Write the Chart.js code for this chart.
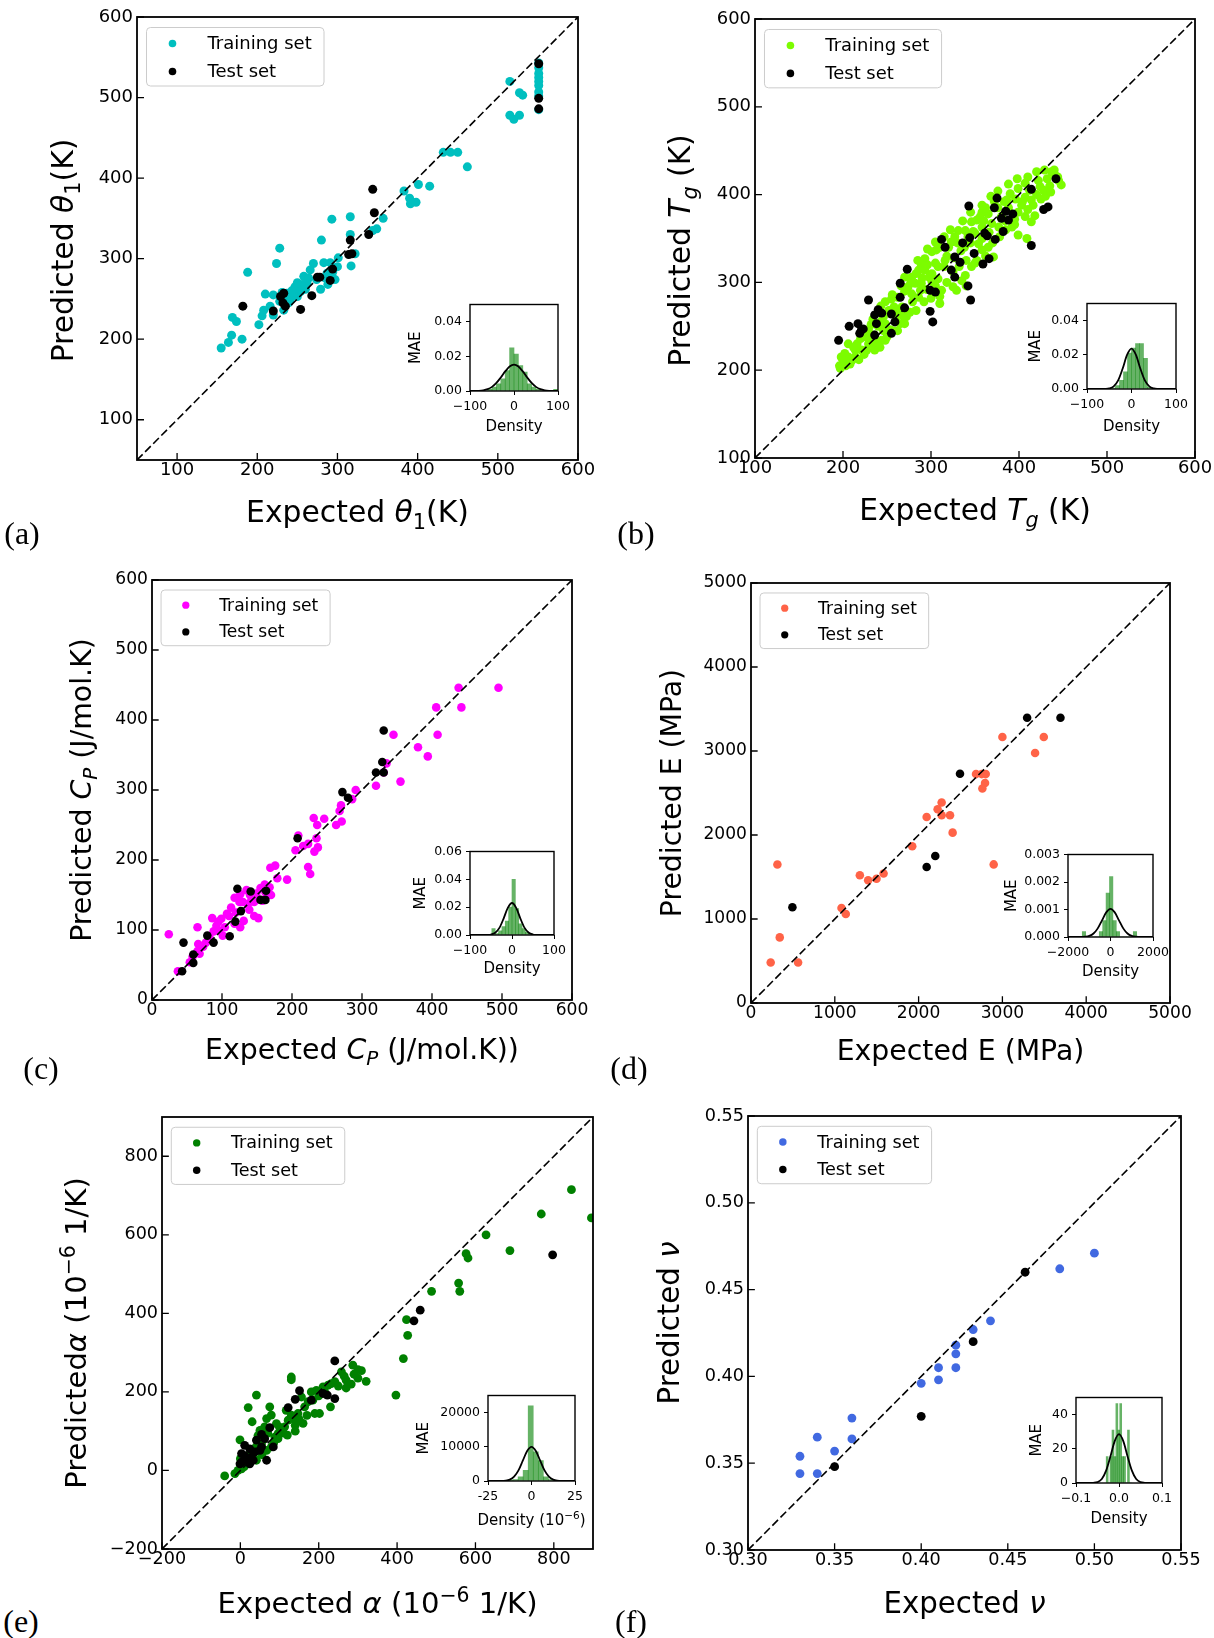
<!DOCTYPE html>
<html>
<head>
<meta charset="utf-8">
<script src="https://cdn.jsdelivr.net/npm/chart.js@4.4.1/dist/chart.umd.min.js"></script>
<style>
html, body { margin: 0; padding: 0; background: #fff; overflow: hidden; }
#page { position: relative; width: 1214px; height: 1638px; }
canvas { position: absolute; }
.tag { position: absolute; font: 32px "Liberation Serif", serif; transform: translate(-50%, -50%); line-height: 1; }
</style>
</head>
<body>
<div id="page"></div>
<script>
// ---- (a) theta_1 ----
var aTicks = [100, 200, 300, 400, 500, 600];
var aTrain = [[551,543],[551,537],[551,530],[551,525],[551,520],[551,515],[551,507],[551,502],[551,485],
  [515,520],[527,506],[531,503],[515,478],[520,473],[527,478],[432,432],[441,432],[450,432],[462,414],
  [383,384],[401,392],[415,390],[390,375],[391,368],[398,370],[357,350],[349,337],[344,335],
  [293,349],[316,352],[316,330],[280,323],[228,313],[224,294],[188,283],[301,301],[270,294],[283,295],
  [291,295],[317,291],[258,278],[262,270],[247,265],[237,257],[210,256],[220,255],[231,258],[241,249],
  [250,253],[254,259],[274,274],[279,262],[287,282],[297,274],[208,236],[206,229],[216,241],[220,230],
  [233,236],[169,227],[174,222],[202,218],[168,205],[164,196],[155,189],[181,200],[266,286],[252,263],
  [245,255],[239,245],[256,268],[264,276],[285,276],[294,283],[243,260],[250,270],[260,262],[228,247],
  [236,250],[300,290],[322,306],[288,268]];
var aTest = [[551,542],[551,499],[551,486],[344,386],[346,357],[339,330],[316,323],[314,305],[318,306],
  [294,287],[291,273],[275,277],[278,277],[268,254],[254,237],[233,257],[229,253],[232,245],[235,241],
  [220,235],[182,241]];

// ---- (b) T_g ----
var bTicks = [100, 200, 300, 400, 500, 600];
var bTrain = [[429,428],[437,426],[441,422],[448,411],[445,416],[422,416],[424,409],[407,413],[399,407],
  [390,401],[386,394],[407,397],[414,394],[403,388],[407,375],[414,369],[399,380],[392,363],[399,354],
  [409,350],[377,363],[369,367],[365,378],[358,380],[356,375],[352,371],[346,369],[348,358],[342,352],
  [339,359],[358,363],[358,350],[354,344],[365,340],[371,329],[358,337],[331,359],[327,352],[323,346],
  [305,346],[306,337],[301,335],[293,327],[289,320],[286,314],[293,314],[301,310],[308,318],[316,325],
  [278,306],[282,299],[289,299],[288,291],[278,287],[274,295],[312,291],[310,276],[308,304],[301,301],
  [329,291],[335,302],[339,308],[267,272],[263,264],[259,270],[272,261],[270,253],[265,253],[248,278],
  [252,268],[246,261],[248,253],[246,245],[250,238],[244,234],[229,246],[225,238],[229,230],[221,223],
  [214,223],[216,230],[227,223],[206,230],[202,219],[198,215],[206,215],[200,207],[197,202],[208,207],
  [214,215],[233,230],[236,223],[242,226],[248,234],[420,400],[428,405],[435,410],[432,418],[440,428],
  [444,420],[416,388],[410,383],[395,372],[388,385],[383,392],[380,375],[376,385],[372,392],[362,385],
  [385,360],[395,366],[418,376],[425,395],[430,398],[436,403],[412,405],[404,392],[396,395],[384,370],
  [378,352],[370,345],[366,357],[360,370],[350,356],[345,345],[338,340],[330,345],[334,336],[326,328],
  [318,330],[320,340],[315,352],[340,325],[350,322],[362,330],[352,325],[346,318],[332,318],[325,312],
  [315,318],[305,322],[296,320],[298,306],[290,305],[283,310],[277,300],[270,290],[262,283],[255,281],
  [258,272],[279,278],[286,283],[295,292],[305,296],[318,300],[325,295],[340,296],[310,284],[300,282],
  [292,278],[283,268],[276,266],[268,262],[260,256],[254,246],[240,250],[236,240],[230,238],[226,245],
  [220,236],[212,226],[210,211],[203,205],[196,205],[200,212],[218,212],[224,218],[239,232],[256,245],
  [262,245],[244,256],[234,258],[256,286],[266,296],[270,306],[285,325],[296,338],[310,340],[322,360],
  [336,370],[345,380],[358,388],[368,398],[376,404],[388,412],[398,418],[410,420],[420,426],[232,252],
  [243,273]];
var bTest = [[442,418],[414,406],[428,383],[433,386],[375,396],[343,387],[372,385],[385,381],[393,378],
  [380,373],[388,371],[382,358],[361,356],[364,353],[373,349],[414,342],[344,351],[336,345],[349,333],
  [312,349],[316,340],[327,329],[333,323],[359,321],[366,327],[323,314],[327,306],[342,296],[345,280],
  [299,291],[305,289],[299,267],[302,255],[273,315],[265,299],[265,283],[270,271],[229,280],[240,269],
  [244,265],[236,263],[238,253],[236,240],[255,264],[259,255],[255,242],[217,253],[221,246],[223,247],
  [219,242],[207,250],[195,234]];

// ---- (c) C_P ----
var cTicks = [0, 100, 200, 300, 400, 500, 600];
var cTrain = [[495,446],[438,446],[442,418],[406,418],[408,379],[345,379],[380,361],[394,348],[355,312],
  [320,306],[335,338],[331,325],[291,300],[286,287],[270,278],[268,270],[271,255],[263,250],[246,259],
  [231,260],[236,250],[235,231],[237,218],[232,212],[223,223],[216,220],[205,214],[209,235],[223,190],
  [226,180],[176,192],[169,189],[179,174],[193,172],[161,165],[168,161],[149,152],[142,143],[135,157],
  [126,151],[118,146],[139,129],[152,117],[146,120],[131,113],[126,104],[113,132],[107,123],[99,116],
  [92,106],[86,117],[65,104],[118,109],[104,104],[96,99],[101,92],[82,90],[77,82],[66,80],[65,70],
  [68,66],[54,54],[37,41],[24,94],[162,154],[158,142],[146,140],[137,137],[110,120],[95,112],[120,125],
  [130,140],[150,145],[140,150],[88,98],[73,76],[58,62],[170,150],[155,160],[125,140]];
var cTest = [[331,385],[329,340],[331,325],[320,325],[272,297],[280,289],[208,231],[163,156],[155,143],
  [162,143],[141,155],[122,159],[127,127],[119,112],[111,91],[88,82],[79,92],[45,82],[59,65],[59,53],
  [43,41]];

// ---- (d) E ----
var dTicks = [0, 1000, 2000, 3000, 4000, 5000];
var dTrain = [[315,1649],[343,781],[235,482],[562,482],[1080,1132],[1131,1060],[1299,1522],[1398,1462],
  [1498,1478],[1582,1542],[1924,1865],[2096,2215],[2275,2387],[2227,2307],[2275,2235],[2375,2235],
  [2406,2028],[2896,1650],[2685,2725],[2753,2725],[2801,2725],[2793,2618],[2761,2554],[3000,3167],
  [3390,2976],[3494,3167]];
var dTest = [[494,1140],[2096,1618],[2199,1749],[2494,2729],[3295,3395],[3693,3395]];

// ---- (e) alpha ----
var eTicks = [-200, 0, 200, 400, 600, 800];
var eTrain = [[896,643],[845,715],[768,653],[688,560],[627,600],[576,552],[581,541],[560,456],[557,477],
  [488,456],[424,384],[427,344],[416,285],[397,192],[130,238],[130,231],[41,192],[20,160],[30,124],
  [-40,-14],[-1,78],[287,268],[300,257],[309,254],[321,227],[270,230],[283,220],[258,251],[241,226],
  [232,221],[224,217],[211,213],[194,204],[181,200],[185,179],[173,175],[190,145],[202,145],[230,162],
  [156,187],[164,162],[147,145],[139,128],[130,141],[117,153],[122,128],[113,111],[105,102],[92,119],
  [96,94],[88,85],[75,162],[79,141],[67,132],[62,111],[50,102],[45,89],[54,68],[67,51],[79,60],[96,81],
  [24,43],[33,34],[41,26],[11,17],[3,4],[-6,0],[-14,-8],[100,110],[110,95],[140,115],[150,130],[160,120],
  [170,140],[200,190],[215,200],[250,215],[265,240],[290,245],[300,235],[270,210],[140,100],[120,90],
  [60,80],[40,60],[20,25],[10,10],[0,30],[30,50],[85,70],[55,40],[70,95]];
var eTest = [[797,549],[459,408],[443,381],[241,279],[151,203],[140,181],[181,179],[211,196],[222,192],
  [241,183],[122,160],[75,109],[54,92],[62,81],[41,77],[54,60],[84,60],[11,64],[24,55],[37,47],[50,51],
  [28,34],[11,38],[3,43],[3,21],[16,26],[33,26],[67,26],[24,17],[-1,17]];

// ---- (f) nu ----
var fTicks = [0.30, 0.35, 0.40, 0.45, 0.50, 0.55];
var fTrain = [[0.50,0.471],[0.48,0.462],[0.44,0.432],[0.43,0.427],[0.42,0.418],[0.42,0.413],[0.42,0.405],
  [0.41,0.405],[0.41,0.398],[0.40,0.396],[0.36,0.376],[0.36,0.364],[0.34,0.365],[0.35,0.357],
  [0.33,0.354],[0.33,0.344],[0.34,0.344]];
var fTest = [[0.46,0.46],[0.43,0.420],[0.40,0.377],[0.35,0.348]];

// ---- error histograms (insets) ----
var errX100 = [-100,-90,-80,-70,-60,-50,-40,-30,-20,-10,0,10,20,30,40,50,60,70,80,90,100];
var aBinMid = [-55,-45,-35,-25,-15,-5,5,15,25,35,45,55,65,75,85,95];
var aBinH = [0.001,0.0023,0.0042,0.007,0.0118,0.025,0.0213,0.0147,0.0109,0.0042,0.0023,0.001,0,0,0,0.001];
var aFitY = [0,0.00004,0.00013,0.00041,0.00106,0.00239,0.00466,0.00781,0.01131,0.01412,0.0152,
  0.01412,0.01131,0.00781,0.00466,0.00239,0.00106,0.00041,0.00013,0.00004,0];
var bBinMid = [-40.5,-31.5,-22.5,-13.5,-4.5,4.5,13.5,22.5,31.5,40.5];
var bBinH = [0.0005,0.002,0.005,0.01,0.021,0.024,0.0265,0.0265,0.018,0.001];
var bFitY = [0,0,0,0,0.00005,0.0003,0.0015,0.005,0.0118,0.0199,0.0236,0.0199,0.0118,0.005,0.0015,
  0.0003,0.00005,0,0,0,0];
var cBinMid = [-44,-36,-28,-20,-12,-4,4,12,20,28,36,44,52,60,68];
var cBinH = [0.0047,0.001,0.003,0.006,0.01,0.02,0.04,0.019,0.008,0.0047,0.002,0.001,0,0,0.0005];
var cFitY = [0,0,0,0,0.00006,0.00035,0.0016,0.0051,0.0118,0.01946,0.023,0.01946,0.0118,0.0051,0.0016,
  0.00035,0.00006,0,0,0,0];
var dBinMid = [-1248,-1088,-928,-768,-608,-448,-288,-128,32,192,352,512,672,832,992,1152];
var dBinH = [0.0002,0,0,0,0,0.0002,0.0006,0.0016,0.0022,0.0006,0.0002,0,0,0,0,0.0002];
var dFitX = [-2000,-1800,-1600,-1400,-1200,-1000,-800,-600,-400,-200,0,200,400,600,800,1000,1200,1400,1600,1800,2000];
var dFitY = [0,0,0,0,0.0000092,0.000039,0.000126,0.000314,0.000605,0.000895,0.00102,0.000895,0.000605,
  0.000314,0.000126,0.000039,0.0000092,0,0,0,0];
var eBinMid = [-14.95,-12.05,-9.15,-6.25,-3.35,-0.45,2.45,5.35,8.25,11.15,14.05];
var eBinH = [100,300,400,1200,3100,22000,8500,6000,1200,400,100];
var eFitX = [-25,-22.5,-20,-17.5,-15,-12.5,-10,-7.5,-5,-2.5,0,2.5,5,7.5,10,12.5,15,17.5,20,22.5,25];
var eFitY = [0,0,0,17,92,390,1250,3100,5940,8780,10000,8780,5940,3100,1250,390,92,17,0,0,0];
var fBinMid = [-0.0275,-0.023,-0.0185,-0.014,-0.0095,-0.005,-0.0005,0.004,0.0085,0.013,0.0175,0.022,0.0265];
var fBinH = [15.5,0,15.5,31,15.5,46.5,31,46.5,15.5,15.5,0,31,0];
var fFitX = [-0.1,-0.09,-0.08,-0.07,-0.06,-0.05,-0.04,-0.03,-0.02,-0.01,0,0.01,0.02,0.03,0.04,0.05,0.06,0.07,0.08,0.09,0.1];
var fFitY = [0,0,0,0,0.1,0.5,2.3,7.2,15.5,24.5,28.6,24.5,15.5,7.2,2.3,0.5,0.1,0,0,0,0];

Chart.defaults.font.family = "'DejaVu Sans', sans-serif";
Chart.defaults.color = '#000';

var page = document.getElementById('page');
var FONT = "'DejaVu Sans'";

function minus(v) { return String(v).replace('-', '\u2212'); }

function addCanvas(left, top, w, h) {
  var c = document.createElement('canvas');
  c.width = w; c.height = h;
  c.style.left = left + 'px'; c.style.top = top + 'px';
  c.style.width = w + 'px'; c.style.height = h + 'px';
  page.appendChild(c);
  return c;
}

// text made of runs: {t, it: italic, sub, sup}
function drawRich(ctx, runs, cx, cy, size, vertical) {
  ctx.save();
  ctx.translate(cx, cy);
  if (vertical) ctx.rotate(-Math.PI / 2);
  var total = 0;
  var parts = runs.map(function (r) {
    var s = (r.sub || r.sup) ? size * 0.7 : size;
    var f = (r.it ? 'italic ' : '') + s + 'px ' + FONT;
    ctx.font = f;
    var w = ctx.measureText(r.t).width;
    total += w;
    return { r: r, f: f, w: w };
  });
  var x = -total / 2;
  ctx.fillStyle = '#000';
  ctx.textBaseline = 'alphabetic';
  parts.forEach(function (p) {
    ctx.font = p.f;
    var dy = size * 0.315;
    if (p.r.sub) dy += size * 0.22;
    if (p.r.sup) dy -= size * 0.38;
    ctx.fillText(p.r.t, x, dy);
    x += p.w;
  });
  ctx.restore();
}

// ---------- main scatter panels ----------
var PL = 110, PT = 15, PR = 30, PB = 75;

function decor(p, k) {
  return {
    id: 'decor',
    afterDatasetsDraw: function (chart) {
      var ctx = chart.ctx, a = chart.chartArea;
      var sx = chart.scales.x, sy = chart.scales.y;
      ctx.save();
      // inward tick marks
      ctx.strokeStyle = '#000';
      ctx.lineWidth = 1.3;
      ctx.beginPath();
      sx.ticks.forEach(function (t) {
        var px = sx.getPixelForValue(t.value);
        ctx.moveTo(px, a.bottom); ctx.lineTo(px, a.bottom - 7 * k);
      });
      sy.ticks.forEach(function (t) {
        var py = sy.getPixelForValue(t.value);
        ctx.moveTo(a.left, py); ctx.lineTo(a.left + 7 * k, py);
      });
      ctx.stroke();
      ctx.lineWidth = 1.8;
      ctx.strokeRect(a.left, a.top, a.right - a.left, a.bottom - a.top);

      // legend
      var lx = a.left + 9.5 * k, ly = a.top + 10.5 * k, lw = 177.5 * k, lh = 58.5 * k;
      ctx.beginPath();
      ctx.roundRect(lx, ly, lw, lh, 4 * k);
      ctx.fillStyle = 'rgba(255,255,255,0.8)';
      ctx.fill();
      ctx.strokeStyle = '#cccccc';
      ctx.lineWidth = 1;
      ctx.stroke();
      var rows = [['Training set', p.color], ['Test set', '#000']];
      ctx.font = (18 * k) + 'px ' + FONT;
      ctx.textBaseline = 'middle';
      rows.forEach(function (row, i) {
        var ry = ly + (16 + 28 * i) * k;
        ctx.fillStyle = row[1];
        ctx.beginPath();
        ctx.arc(lx + 26 * k, ry, 3.8 * k, 0, Math.PI * 2);
        ctx.fill();
        ctx.fillStyle = '#000';
        ctx.fillText(row[0], lx + 61 * k, ry + 1);
      });

      // axis titles
      var ts = 29.8 * k;
      drawRich(ctx, p.xTitle, (a.left + a.right) / 2, a.bottom + p.xDy, ts, false);
      drawRich(ctx, p.yTitle, a.left + p.yDx, (a.top + a.bottom) / 2 + p.yDy, ts, true);
      ctx.restore();
    }
  };
}

function scatterPanel(p) {
  var w = p.box[2] - p.box[0], h = p.box[3] - p.box[1];
  var k = w / 441;
  var cv = addCanvas(p.box[0] - PL, p.box[1] - PT, w + PL + PR, h + PT + PB);
  var fmt = p.fmt || minus;
  function axis(pad, fit) {
    return {
      type: 'linear', min: p.lim[0], max: p.lim[1],
      grid: { display: false, drawTicks: false },
      border: { display: false },
      ticks: { font: { size: 18 * k }, padding: pad, autoSkip: false, maxRotation: 0, minRotation: 0, callback: fmt },
      afterBuildTicks: function (s) { s.ticks = p.ticks.map(function (v) { return { value: v }; }); },
      afterFit: fit
    };
  }
  function pts(list) { return list.map(function (d) { return { x: d[0], y: d[1] }; }); }
  new Chart(cv, {
    type: 'scatter',
    data: {
      datasets: [
        { label: 'Training set', data: pts(p.train), backgroundColor: p.color, pointBackgroundColor: p.color,
          pointBorderWidth: 0, pointRadius: 4.5 * k, order: 2 },
        { label: 'Test set', data: pts(p.test), backgroundColor: '#000', pointBackgroundColor: '#000',
          pointBorderWidth: 0, pointRadius: 4.5 * k, order: 1 },
        { type: 'line', data: [{ x: p.lim[0], y: p.lim[0] }, { x: p.lim[1], y: p.lim[1] }],
          borderColor: '#000', borderWidth: 1.6, borderDash: [8, 3.5], pointRadius: 0, order: 0 }
      ]
    },
    options: {
      responsive: false, animation: false, events: [],
      layout: { padding: { left: 0, top: PT, right: PR, bottom: 0 } },
      plugins: { legend: { display: false }, tooltip: { enabled: false } },
      scales: {
        x: axis(0, function (s) { s.height = PB; }),
        y: axis(4, function (s) { s.width = PL; })
      }
    },
    plugins: [decor(p, k)]
  });
  var tag = document.createElement('div');
  tag.className = 'tag';
  tag.textContent = p.tag;
  tag.style.left = p.tagPos[0] + 'px';
  tag.style.top = p.tagPos[1] + 'px';
  page.appendChild(tag);
}

// ---------- inset histograms ----------
var IL = 75, IT = 10, IR = 22, IB = 50;

function insetDecor(q) {
  return {
    id: 'insetDecor',
    beforeDatasetsDraw: function (chart) {
      var a = chart.chartArea, ctx = chart.ctx;
      ctx.save();
      ctx.fillStyle = '#fff';
      ctx.fillRect(a.left, a.top, a.right - a.left, a.bottom - a.top);
      ctx.restore();
    },
    afterDatasetsDraw: function (chart) {
      var a = chart.chartArea, ctx = chart.ctx;
      ctx.save();
      ctx.strokeStyle = '#000';
      ctx.lineWidth = 1.4;
      ctx.strokeRect(a.left, a.top, a.right - a.left, a.bottom - a.top);
      drawRich(ctx, [{ t: 'MAE' }], a.left + q.maeDx, (a.top + a.bottom) / 2, 15, true);
      drawRich(ctx, q.xLabel, (a.left + a.right) / 2, a.bottom + q.denDy, 15, false);
      ctx.restore();
    }
  };
}

function insetPanel(q) {
  var w = q.box[2] - q.box[0], h = q.box[3] - q.box[1];
  var cv = addCanvas(q.box[0] - IL, q.box[1] - IT, w + IL + IR, h + IT + IB);
  function axis(lim, ticks, fmt, fit) {
    return {
      type: 'linear', min: lim[0], max: lim[1], offset: false,
      grid: { display: true, offset: false, drawOnChartArea: false, drawTicks: true, tickLength: 4, color: '#000', lineWidth: 1 },
      border: { display: false },
      ticks: { font: { size: 12.5 }, padding: 4, autoSkip: false, maxRotation: 0, minRotation: 0, callback: fmt },
      afterBuildTicks: function (s) { s.ticks = ticks.map(function (v) { return { value: v }; }); },
      afterFit: fit
    };
  }
  new Chart(cv, {
    type: 'bar',
    data: {
      datasets: [
        { type: 'line', data: q.fitX.map(function (x, i) { return { x: x, y: q.fitY[i] }; }),
          borderColor: '#000', borderWidth: 1.8, pointRadius: 0, cubicInterpolationMode: 'monotone', order: 0 },
        { type: 'bar', data: q.mid.map(function (x, i) { return { x: x, y: q.h[i] }; }),
          backgroundColor: 'rgba(0,128,0,0.6)', borderWidth: 0, barPercentage: 1, categoryPercentage: 1, order: 1 }
      ]
    },
    options: {
      responsive: false, animation: false, events: [],
      layout: { padding: { left: 0, top: IT, right: IR, bottom: 0 } },
      plugins: { legend: { display: false }, tooltip: { enabled: false } },
      scales: {
        x: axis(q.xlim, q.xticks, q.xfmt, function (s) { s.height = IB; }),
        y: axis(q.ylim, q.yticks, q.yfmt, function (s) { s.width = IL; })
      }
    },
    plugins: [insetDecor(q)]
  });
}

var fix2 = function (v) { return v.toFixed(2); };
var fix3 = function (v) { return v.toFixed(3); };
var density = [{ t: 'Density' }];

scatterPanel({ box: [137, 17, 578, 460], lim: [50, 600], ticks: aTicks, train: aTrain, test: aTest, color: '#00bfbf',
  xTitle: [{ t: 'Expected ' }, { t: '\u03b8', it: 1 }, { t: '1', sub: 1 }, { t: '(K)' }],
  yTitle: [{ t: 'Predicted ' }, { t: '\u03b8', it: 1 }, { t: '1', sub: 1 }, { t: '(K)' }],
  xDy: 53, yDx: -73, yDy: 12, tag: '(a)', tagPos: [22, 533] });
scatterPanel({ box: [755, 19, 1195, 458], lim: [100, 600], ticks: bTicks, train: bTrain, test: bTest, color: '#7cfc00',
  xTitle: [{ t: 'Expected ' }, { t: 'T', it: 1 }, { t: 'g', it: 1, sub: 1 }, { t: ' (K)' }],
  yTitle: [{ t: 'Predicted ' }, { t: 'T', it: 1 }, { t: 'g', it: 1, sub: 1 }, { t: ' (K)' }],
  xDy: 53, yDx: -74, yDy: 12, tag: '(b)', tagPos: [636, 533] });
scatterPanel({ box: [152, 580, 572, 1000], lim: [0, 600], ticks: cTicks, train: cTrain, test: cTest, color: '#ff00ff',
  xTitle: [{ t: 'Expected ' }, { t: 'C', it: 1 }, { t: 'P', it: 1, sub: 1 }, { t: ' (J/mol.K))' }],
  yTitle: [{ t: 'Predicted ' }, { t: 'C', it: 1 }, { t: 'P', it: 1, sub: 1 }, { t: ' (J/mol.K)' }],
  xDy: 50, yDx: -70, yDy: 0, tag: '(c)', tagPos: [41, 1068] });
scatterPanel({ box: [751, 583, 1170, 1003], lim: [0, 5000], ticks: dTicks, train: dTrain, test: dTest, color: '#ff6347',
  xTitle: [{ t: 'Expected E (MPa)' }],
  yTitle: [{ t: 'Predicted E (MPa)' }],
  xDy: 48, yDx: -79, yDy: 0, tag: '(d)', tagPos: [629, 1068] });
scatterPanel({ box: [162, 1117, 593, 1549], lim: [-200, 900], ticks: eTicks, train: eTrain, test: eTest, color: '#008000',
  xTitle: [{ t: 'Expected ' }, { t: '\u03b1', it: 1 }, { t: ' (10' }, { t: '\u22126', sup: 1 }, { t: ' 1/K)' }],
  yTitle: [{ t: 'Predicted' }, { t: '\u03b1', it: 1 }, { t: ' (10' }, { t: '\u22126', sup: 1 }, { t: ' 1/K)' }],
  xDy: 55, yDx: -85, yDy: 0, tag: '(e)', tagPos: [21, 1621] });
scatterPanel({ box: [748, 1116, 1181, 1550], lim: [0.30, 0.55], ticks: fTicks, train: fTrain, test: fTest, color: '#4169e1',
  fmt: fix2,
  xTitle: [{ t: 'Expected ' }, { t: '\u03bd', it: 1 }],
  yTitle: [{ t: 'Predicted ' }, { t: '\u03bd', it: 1 }],
  xDy: 54, yDx: -78, yDy: -10, tag: '(f)', tagPos: [631, 1621] });

insetPanel({ box: [470, 303, 558, 391], mid: aBinMid, h: aBinH, fitX: errX100, fitY: aFitY,
  xlim: [-100, 100], xticks: [-100, 0, 100], xfmt: minus, ylim: [0, 0.05], yticks: [0, 0.02, 0.04], yfmt: fix2,
  maeDx: -55, denDy: 35, xLabel: density });
insetPanel({ box: [1087, 302, 1176, 389], mid: bBinMid, h: bBinH, fitX: errX100, fitY: bFitY,
  xlim: [-100, 100], xticks: [-100, 0, 100], xfmt: minus, ylim: [0, 0.05], yticks: [0, 0.02, 0.04], yfmt: fix2,
  maeDx: -52, denDy: 37, xLabel: density });
insetPanel({ box: [470, 850, 554, 935], mid: cBinMid, h: cBinH, fitX: errX100, fitY: cFitY,
  xlim: [-100, 100], xticks: [-100, 0, 100], xfmt: minus, ylim: [0, 0.06], yticks: [0, 0.02, 0.04, 0.06], yfmt: fix2,
  maeDx: -50, denDy: 33, xLabel: density });
insetPanel({ box: [1068, 853, 1153, 937], mid: dBinMid, h: dBinH, fitX: dFitX, fitY: dFitY,
  xlim: [-2000, 2000], xticks: [-2000, 0, 2000], xfmt: minus, ylim: [0, 0.003], yticks: [0, 0.001, 0.002, 0.003], yfmt: fix3,
  maeDx: -57, denDy: 34, xLabel: density });
insetPanel({ box: [488, 1394, 575, 1481], mid: eBinMid, h: eBinH, fitX: eFitX, fitY: eFitY,
  xlim: [-25, 25], xticks: [-25, 0, 25], xfmt: function (v) { return String(v); },
  ylim: [0, 25000], yticks: [0, 10000, 20000], yfmt: function (v) { return String(v); },
  maeDx: -65, denDy: 39, xLabel: [{ t: 'Density (10' }, { t: '\u22126', sup: 1 }, { t: ')' }] });
insetPanel({ box: [1076, 1396, 1162, 1483], mid: fBinMid, h: fBinH, fitX: fFitX, fitY: fFitY,
  xlim: [-0.1, 0.1], xticks: [-0.1, 0, 0.1], xfmt: function (v) { return minus(v.toFixed(1)); },
  ylim: [0, 50], yticks: [0, 20, 40], yfmt: function (v) { return String(v); },
  maeDx: -40, denDy: 35, xLabel: density });
</script>
</body>
</html>
